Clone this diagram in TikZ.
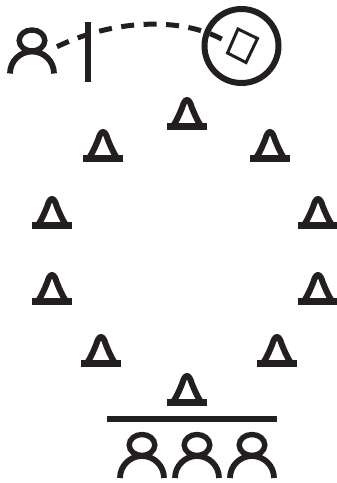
\documentclass[tikz,border=0pt]{standalone}
\definecolor{ink}{HTML}{231F20}
\tikzset{
  inkline/.style={draw=ink,line width=#1},
  inkline/.default=5pt,
  cone/.pic={
    \fill[ink] (-20,0) rectangle (20,7);
    \draw[inkline=6pt,line join=round] (-13,1.5) .. controls (-10,-3) and (-7.5,-9) .. (-5,-15) .. controls (-3.5,-20) and (-2,-23) .. (0,-23) .. controls (2,-23) and (3.5,-20) .. (5,-15) .. controls (7.5,-9) and (10,-3) .. (13,1.5);
  },
  person/.pic={
    \draw[inkline=5.4pt] (0,-33) ellipse [x radius=12.8,y radius=10.5];
    \draw[inkline=5.8pt] (-22,0) arc [start angle=180,end angle=360,radius=22];
  }
}
\begin{document}
\begin{tikzpicture}[x=1pt,y=-1pt]
\useasboundingbox (0,0) rectangle (337,483);
% people
\pic at (32,73.5) {person};
\pic at (142,478) {person};
\pic at (197,478) {person};
\pic at (252,478) {person};
% barriers
\coordinate (wallTop) at (88,22);
\coordinate (wallBottom) at (88,82);
\draw[inkline=6pt] (wallTop) -- (wallBottom);
\coordinate (lineLeft) at (107,419);
\coordinate (lineRight) at (277,419);
\draw[inkline=6pt] (lineLeft) -- (lineRight);
% cones
\foreach \cx/\cy in {187/123,103/155,270/155,52/222,318/222,52/298,318/298,101/360,277/360,187/399}
  \pic at (\cx,\cy) {cone};
% circle and camera
\node[circle,inkline=6pt,minimum size=74pt,inner sep=0pt] (lens) at (241.5,46) {};
\coordinate (camA) at (238,29);
\coordinate (camB) at (257.5,38.5);
\coordinate (camC) at (246,62.5);
\coordinate (camD) at (227.5,53);
\draw[inkline=3pt,line join=miter] (camA) -- (camB) -- (camC) -- (camD) -- cycle;
% dashed sight line
\coordinate (sightStart) at (57,46.7);
\coordinate (sightEnd) at (223.5,40);
\draw[inkline=5pt,dash pattern=on 13pt off 9.5pt] (sightStart) .. controls (112,20) and (180,16) .. (sightEnd);
\end{tikzpicture}
\end{document}
